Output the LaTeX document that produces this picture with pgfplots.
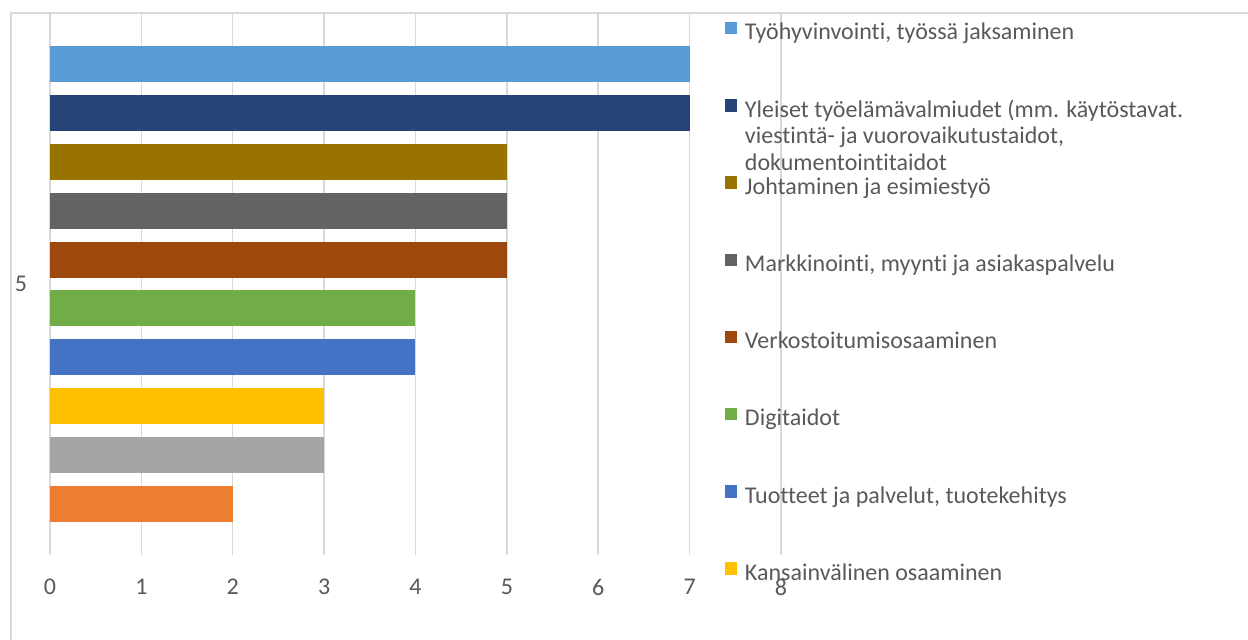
\documentclass[border=0pt]{standalone}
\usepackage{fontspec}
\setmainfont{Carlito}[Ligatures={NoCommon,NoContextual}]
\usepackage{pgfplots}
\pgfplotsset{compat=1.18}
\definecolor{c1}{HTML}{5B9BD5}
\definecolor{c2}{HTML}{264478}
\definecolor{c3}{HTML}{997300}
\definecolor{c4}{HTML}{636363}
\definecolor{c5}{HTML}{9E480E}
\definecolor{c6}{HTML}{70AD47}
\definecolor{c7}{HTML}{4472C4}
\definecolor{c8}{HTML}{FFC000}
\definecolor{c9}{HTML}{A5A5A5}
\definecolor{c10}{HTML}{ED7D31}
\definecolor{gridc}{HTML}{D9D9D9}
\definecolor{textc}{HTML}{595959}
\begin{document}
\begin{tikzpicture}
\useasboundingbox (0,0) rectangle (624pt,-320pt);
\draw[color=gridc, line width=0.75pt] (5.5pt,-320pt) -- (5.5pt,-6.5pt) -- (624pt,-6.5pt);
\begin{axis}[
  at={(25pt,-6.5pt)}, anchor=north west,
  scale only axis, width=365.5pt, height=271pt,
  xmin=0, xmax=8, ymin=-0.05, ymax=11.05,
  xtick={0,1,...,8}, ytick={5.5}, yticklabels={5},
  xmajorgrids, grid style={draw=gridc, line width=0.75pt},
  axis line style={draw=none}, major tick length=0pt,
  tick label style={font=\fontsize{12}{14}\selectfont, text=textc},
  /pgf/number format/assume math mode=true,
  xticklabel style={yshift=-8.5pt}, yticklabel style={xshift=-8pt},
  xbar, bar width=18pt, bar shift=0pt,
  legend cell align=left,
  legend image code/.code={\fill[#1] (0pt,-0.25pt) rectangle (6.25pt,6pt);},
  legend style={at={(0.9234,1)}, anchor=north west, yshift=-4.5pt,
    draw=none, fill=none, inner sep=0pt, outer sep=0pt,
    row sep=27.1pt, column sep=3.75pt,
    font=\fontsize{12}{13.25}\selectfont,
    nodes={inner sep=0pt, text height=8.5pt, text depth=2.5pt, text=textc}},
]
\addplot[fill=c1, draw=none] coordinates {(7,10)};
\addlegendentry{Työhyvinvointi, työssä jaksaminen}
\addplot[fill=c2, draw=none] coordinates {(7,9)};
\addlegendentry{\parbox[t]{260pt}{\setlength{\baselineskip}{13.25pt}Yleiset työelämävalmiudet (mm. käytöstavat.\\viestintä- ja vuorovaikutustaidot,\\dokumentointitaidot}}
\addplot[fill=c3, draw=none] coordinates {(5,8)};
\addlegendentry{Johtaminen ja esimiestyö}
\addplot[fill=c4, draw=none] coordinates {(5,7)};
\addlegendentry{Markkinointi, myynti ja asiakaspalvelu}
\addplot[fill=c5, draw=none] coordinates {(5,6)};
\addlegendentry{Verkostoitumisosaaminen}
\addplot[fill=c6, draw=none] coordinates {(4,5)};
\addlegendentry{Digitaidot}
\addplot[fill=c7, draw=none] coordinates {(4,4)};
\addlegendentry{Tuotteet ja palvelut, tuotekehitys}
\addplot[fill=c8, draw=none] coordinates {(3,3)};
\addlegendentry{Kansainvälinen osaaminen}
\addplot[fill=c9, draw=none, forget plot] coordinates {(3,2)};
\addplot[fill=c10, draw=none, forget plot] coordinates {(2,1)};
\end{axis}
\end{tikzpicture}
\end{document}
